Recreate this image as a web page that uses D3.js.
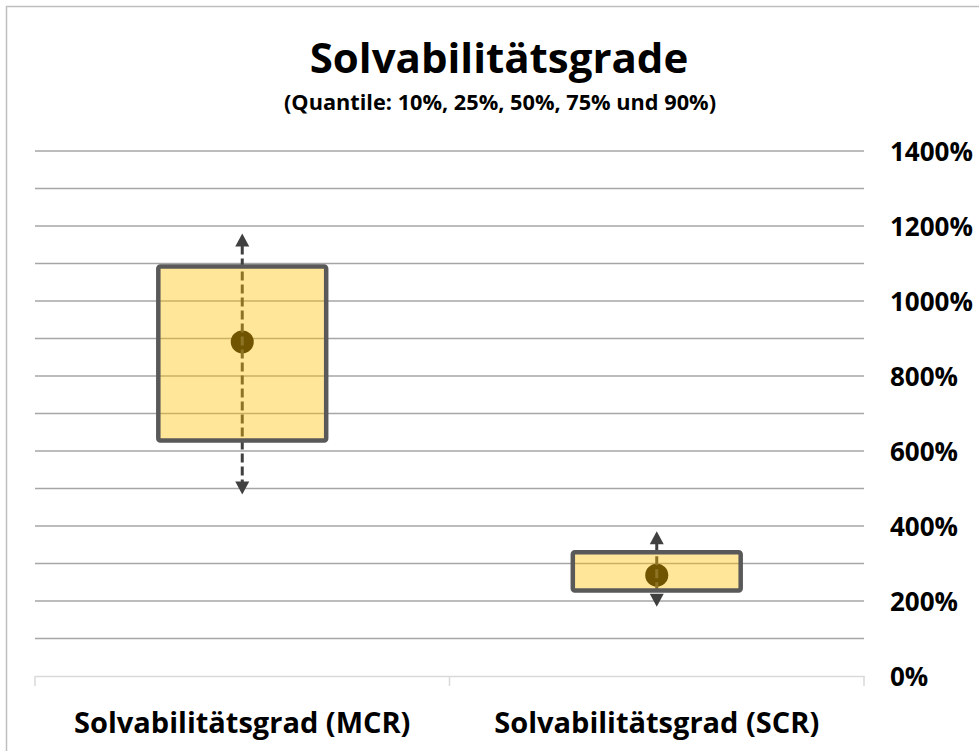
<!DOCTYPE html>
<html>
<head>
<meta charset="utf-8">
<script src="https://cdn.jsdelivr.net/npm/d3@7/dist/d3.min.js"></script>
<style>
  html, body { margin: 0; padding: 0; background: #fff; }
  svg { display: block; font-family: "Open Sans", "Noto Sans", sans-serif; }
</style>
</head>
<body>
<svg id="chart" width="979" height="751"></svg>
<script>
const title = "Solvabilitätsgrade";
const subtitle = "(Quantile: 10%, 25%, 50%, 75% und 90%)";
const categories = ["Solvabilitätsgrad (MCR)", "Solvabilitätsgrad (SCR)"];
const q10 = [484, 185];
const q25 = [628, 228];
const q50 = [891, 269];
const q75 = [1092, 330];
const q90 = [1180, 386];
const gridValues = [100, 200, 300, 400, 500, 600, 700, 800, 900, 1000, 1100, 1200, 1300, 1400];
const tickValues = [0, 200, 400, 600, 800, 1000, 1200, 1400];

const data = categories.map((c, i) => ({
  cat: c, q10: q10[i], q25: q25[i], q50: q50[i], q75: q75[i], q90: q90[i]
}));

const svg = d3.select("#chart");

// outer chart border
svg.append("rect")
  .attr("x", 6.5).attr("y", 6.5).attr("width", 1000).attr("height", 800)
  .attr("fill", "none").attr("stroke", "#bfbfbf").attr("stroke-width", 1.5);

const plotLeft = 35, plotRight = 864;
const y = d3.scaleLinear().domain([0, 1400]).range([676, 151]);
const x = d3.scaleBand().domain(categories).range([plotLeft, plotRight]).padding(0);

// gridlines
svg.append("g").selectAll("line").data(gridValues).join("line")
  .attr("x1", plotLeft).attr("x2", plotRight)
  .attr("y1", d => y(d)).attr("y2", d => y(d))
  .attr("stroke", "#a6a6a6").attr("stroke-width", 1.5);

// category axis (baseline at 0)
const xAxis = d3.axisBottom(x).tickSize(0).tickFormat("");
const xg = svg.append("g").attr("transform", `translate(0,${y(0)})`).call(xAxis);
xg.select(".domain").attr("stroke", "#d9d9d9").attr("stroke-width", 1.5);
const bounds = [plotLeft, ...categories.map(c => x(c) + x.bandwidth())];
xg.selectAll(".bnd").data(bounds).join("line").attr("class", "bnd")
  .attr("x1", d => d).attr("x2", d => d).attr("y1", 0).attr("y2", 10)
  .attr("stroke", "#d9d9d9").attr("stroke-width", 1.5);
xg.selectAll(".tick").remove();

// right value labels
const yAxis = d3.axisRight(y).tickValues(tickValues).tickSize(0)
  .tickFormat(d => d + "%");
const yg = svg.append("g").attr("transform", `translate(${plotRight + 26},0)`).call(yAxis);
yg.select(".domain").remove();
yg.selectAll("text")
  .attr("x", 0).attr("dy", "0.35em")
  .attr("text-anchor", "start")
  .style("font-family", "'Open Sans', sans-serif")
  .style("font-weight", 700).style("font-size", "26px").attr("fill", "#000");

// category labels
svg.append("g").selectAll("text").data(categories).join("text")
  .attr("x", d => x(d) + x.bandwidth() / 2)
  .attr("y", 733)
  .attr("text-anchor", "middle")
  .style("font-weight", 700).style("font-size", "29px").attr("fill", "#000")
  .text(d => d);

const boxW = x.bandwidth() * 0.405;
const cx = d => x(d.cat) + x.bandwidth() / 2;

const marks = svg.append("g");
// median dot (beneath the translucent box)
marks.selectAll("circle").data(data).join("circle")
  .attr("cx", cx).attr("cy", d => y(d.q50)).attr("r", 11.5)
  .attr("fill", "#120c00");

// dashed whisker line
const ah = 13, aw = 7;
marks.selectAll("line.wh").data(data).join("line").attr("class", "wh")
  .attr("x1", cx).attr("x2", cx)
  .attr("y1", d => y(d.q90) + ah - 1).attr("y2", d => y(d.q10) - ah + 1)
  .attr("stroke", "#404040").attr("stroke-width", 3)
  .attr("stroke-dasharray", "9,4");

// arrowheads
marks.selectAll("path.up").data(data).join("path").attr("class", "up")
  .attr("d", d => {
    const X = cx(d), Y = y(d.q90);
    return `M${X},${Y} L${X + aw},${Y + ah} L${X - aw},${Y + ah} Z`;
  }).attr("fill", "#404040");
marks.selectAll("path.dn").data(data).join("path").attr("class", "dn")
  .attr("d", d => {
    const X = cx(d), Y = y(d.q10);
    return `M${X},${Y} L${X + aw},${Y - ah} L${X - aw},${Y - ah} Z`;
  }).attr("fill", "#404040");

// translucent boxes
marks.selectAll("rect.box").data(data).join("rect").attr("class", "box")
  .attr("x", d => cx(d) - boxW / 2)
  .attr("y", d => y(d.q75))
  .attr("width", boxW)
  .attr("height", d => y(d.q25) - y(d.q75))
  .attr("rx", 2)
  .attr("fill", "#FFC000").attr("fill-opacity", 0.4)
  .attr("stroke", "#595959").attr("stroke-width", 4.5);

// titles
svg.append("text").attr("x", 499).attr("y", 73)
  .attr("text-anchor", "middle")
  .style("font-weight", 700).style("font-size", "42px").attr("fill", "#000")
  .text(title);
svg.append("text").attr("x", 500).attr("y", 110)
  .attr("text-anchor", "middle")
  .attr("textLength", 432).attr("lengthAdjust", "spacingAndGlyphs")
  .style("font-weight", 700).style("font-size", "21px").attr("fill", "#000")
  .text(subtitle);
</script>
</body>
</html>
